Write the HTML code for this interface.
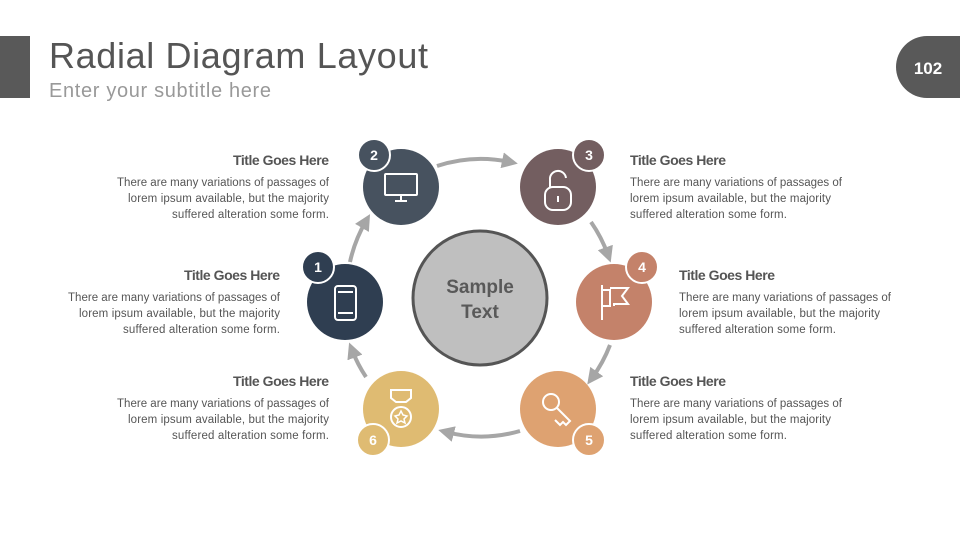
<!DOCTYPE html>
<html><head><meta charset="utf-8"><style>
html,body{margin:0;padding:0;background:#fff;}
svg{display:block;}
text{font-family:"Liberation Sans",sans-serif;}
.t{font-weight:bold;font-size:14px;fill:#555;}
.b{font-size:11.5px;fill:#555;}
</style></head><body>
<svg width="960" height="540" viewBox="0 0 960 540" xmlns="http://www.w3.org/2000/svg">
<defs>
<marker id="ah" markerWidth="4" markerHeight="4" refX="2" refY="2" orient="auto" markerUnits="strokeWidth">
<path d="M0,0 L4,2 L0,4 z" fill="#a6a6a6"/></marker>
</defs>
<rect x="0" y="36" width="30" height="62" fill="#595959"/>
<text x="49" y="68" font-size="36" fill="#555" textLength="379">Radial Diagram Layout</text>
<text x="49" y="97" font-size="20" fill="#999" textLength="222">Enter your subtitle here</text>
<path d="M927,36 H960 V98 H927 A31,31 0 0 1 927,36 z" fill="#595959"/>
<text x="928" y="74" font-size="17" font-weight="bold" fill="#fff" text-anchor="middle">102</text>

<g fill="none" stroke="#a6a6a6" stroke-width="4" marker-end="url(#ah)">
<path d="M437,166 A140,140 0 0 1 510,162"/>
<path d="M591,222 A140,140 0 0 1 608,255"/>
<path d="M610,345 A140,140 0 0 1 592,378"/>
<path d="M520,431 A140,140 0 0 1 446,432"/>
<path d="M366,377 A140,140 0 0 1 352,350"/>
<path d="M350,262 A140,140 0 0 1 366,221"/>
</g>

<circle cx="480" cy="298" r="67" fill="#bfbfbf" stroke="#555" stroke-width="3"/>
<text x="480" y="293" font-size="19" font-weight="bold" fill="#595959" text-anchor="middle">Sample</text>
<text x="480" y="318" font-size="19" font-weight="bold" fill="#595959" text-anchor="middle">Text</text>

<circle cx="345" cy="302" r="38" fill="#2f3e51"/>
<circle cx="401" cy="187" r="38" fill="#47525f"/>
<circle cx="558" cy="187" r="38" fill="#735e60"/>
<circle cx="614" cy="302" r="38" fill="#c4826a"/>
<circle cx="558" cy="409" r="38" fill="#dea271"/>
<circle cx="401" cy="409" r="38" fill="#dfbb72"/>

<g stroke="#fff" stroke-width="2">
<circle cx="318" cy="267" r="16" fill="#2f3e51"/>
<circle cx="374" cy="155" r="16" fill="#47525f"/>
<circle cx="589" cy="155" r="16" fill="#735e60"/>
<circle cx="642" cy="267" r="16" fill="#c4826a"/>
<circle cx="589" cy="440" r="16" fill="#dea271"/>
<circle cx="373" cy="440" r="16" fill="#dfbb72"/>
</g>
<g font-size="14" font-weight="bold" fill="#fff" text-anchor="middle">
<text x="318" y="272">1</text><text x="374" y="160">2</text><text x="589" y="160">3</text>
<text x="642" y="272">4</text><text x="589" y="445">5</text><text x="373" y="445">6</text>
</g>

<g fill="none" stroke="#fff" stroke-width="2">
<rect x="335" y="286" width="21" height="34" rx="3"/><line x1="338" y1="292" x2="353" y2="292"/><line x1="338" y1="313" x2="353" y2="313"/>
<rect x="385" y="174" width="32" height="21" rx="1"/><line x1="401" y1="195" x2="401" y2="200"/><line x1="395" y1="201" x2="407" y2="201"/>
<rect x="545" y="187" width="26" height="23" rx="8"/><path d="M550,187 V180 A8,8 0 0 1 566,178"/><line x1="558" y1="196" x2="558" y2="202"/>
<line x1="602" y1="285" x2="602" y2="320"/><path d="M602,290 H610 V306 H602"/><path d="M610,288 H628 L622,296 L628,304 H614 V306"/>
<circle cx="551" cy="402" r="8"/><path d="M557,408 L570,421 L566,425 L563,422 L560,425 L555,420"/>
<path d="M391,390 H411 V398 L406,402 H396 L391,398 z"/><circle cx="401" cy="417" r="10"/><path d="M401,411 L403,415 L407,416 L404,419 L405,423 L401,421 L397,423 L398,419 L395,416 L399,415 z" stroke-width="1.5"/>
</g>

<g text-anchor="end">
<text class="t" x="329" y="165" textLength="96">Title Goes Here</text>
<text class="b" x="329" y="186" textLength="212">There are many variations of passages of</text>
<text class="b" x="329" y="202" textLength="201">lorem ipsum available, but the majority</text>
<text class="b" x="329" y="218" textLength="157">suffered alteration some form.</text>
<text class="t" x="280" y="280" textLength="96">Title Goes Here</text>
<text class="b" x="280" y="301" textLength="212">There are many variations of passages of</text>
<text class="b" x="280" y="317" textLength="201">lorem ipsum available, but the majority</text>
<text class="b" x="280" y="333" textLength="157">suffered alteration some form.</text>
<text class="t" x="329" y="386" textLength="96">Title Goes Here</text>
<text class="b" x="329" y="407" textLength="212">There are many variations of passages of</text>
<text class="b" x="329" y="423" textLength="201">lorem ipsum available, but the majority</text>
<text class="b" x="329" y="439" textLength="157">suffered alteration some form.</text>
</g>
<g>
<text class="t" x="630" y="165" textLength="96">Title Goes Here</text>
<text class="b" x="630" y="186" textLength="212">There are many variations of passages of</text>
<text class="b" x="630" y="202" textLength="201">lorem ipsum available, but the majority</text>
<text class="b" x="630" y="218" textLength="157">suffered alteration some form.</text>
<text class="t" x="679" y="280" textLength="96">Title Goes Here</text>
<text class="b" x="679" y="301" textLength="212">There are many variations of passages of</text>
<text class="b" x="679" y="317" textLength="201">lorem ipsum available, but the majority</text>
<text class="b" x="679" y="333" textLength="157">suffered alteration some form.</text>
<text class="t" x="630" y="386" textLength="96">Title Goes Here</text>
<text class="b" x="630" y="407" textLength="212">There are many variations of passages of</text>
<text class="b" x="630" y="423" textLength="201">lorem ipsum available, but the majority</text>
<text class="b" x="630" y="439" textLength="157">suffered alteration some form.</text>
</g>
</svg>
</body></html>
